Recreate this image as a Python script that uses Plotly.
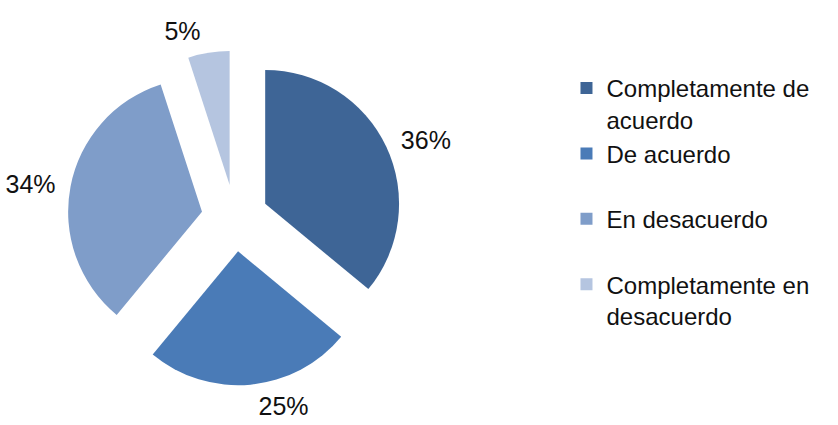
import plotly.graph_objects as go

# Survey responses and their share of answers (%)
categories = [
    "Completamente de<br>acuerdo",
    "De acuerdo<br> ",
    "En desacuerdo<br> ",
    "Completamente en<br>desacuerdo",
]
shares = [36, 25, 34, 5]
slice_colors = ["#3E6596", "#4A7BB7", "#7F9DC9", "#B5C5E0"]

FONT = "Liberation Sans, Arial"

# Exploded pie: every slice pulled out from the centre
pie = go.Pie(
    labels=categories,
    values=shares,
    sort=False,
    direction="clockwise",
    rotation=0,
    pull=[0.25] * len(shares),
    marker=dict(colors=slice_colors, line=dict(width=0)),
    textinfo="none",
    hovertemplate="%{value}%<extra></extra>",
    domain=dict(x=[0.0806, 0.480], y=[0.093, 0.881]),
)

# Percentage labels ride on a wider, transparent copy of the same pie
labels_ring = go.Pie(
    labels=categories,
    values=shares,
    sort=False,
    direction="clockwise",
    rotation=0,
    pull=[0.25] * len(shares),
    marker=dict(colors=["rgba(0,0,0,0)"] * len(shares), line=dict(width=0)),
    texttemplate="%{value}%",
    textposition="outside",
    outsidetextfont=dict(family=FONT, size=25, color="#111111"),
    hoverinfo="skip",
    showlegend=False,
    domain=dict(x=[0.0704, 0.4905], y=[0.075, 0.901]),
)

fig = go.Figure([pie, labels_ring])

fig.update_layout(
    width=838,
    height=425,
    margin=dict(l=0, r=0, t=0, b=0, autoexpand=False),
    paper_bgcolor="white",
    plot_bgcolor="white",
    font=dict(family=FONT, size=24, color="#111111"),
    showlegend=True,
    legend=dict(
        x=0.676,
        y=0.845,
        xanchor="left",
        yanchor="top",
        valign="top",
        font=dict(family=FONT, size=24, color="#111111"),
        itemclick=False,
        itemdoubleclick=False,
    ),
)

fig.write_html("out.html")
